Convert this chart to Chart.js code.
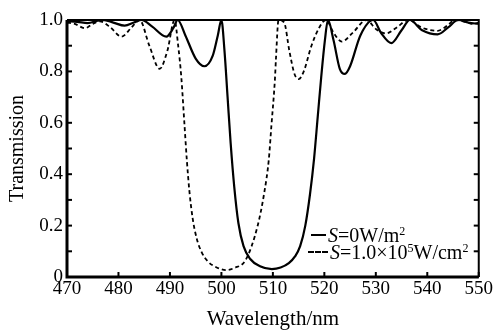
<!DOCTYPE html>
<html>
<head>
<meta charset="utf-8">
<script src="https://cdn.jsdelivr.net/npm/chart.js@4.4.1/dist/chart.umd.min.js"></script>
<style>
  html, body { margin: 0; padding: 0; background: #fff; }
  #wrap { position: relative; width: 494px; height: 332px; }
  .leg { position: absolute; font-family: "Liberation Serif", "DejaVu Serif", serif; font-size: 20px; color: #000; white-space: nowrap; line-height: 17px; }
  .leg i { font-style: italic; }
  .leg sup { font-size: 12px; vertical-align: 7px; line-height: 0; }
  .sample { display: inline-block; vertical-align: middle; margin-right: 2px; position: relative; top: -2px; }
</style>
</head>
<body>
<div id="wrap">
  <canvas id="chart" width="494" height="332"></canvas>
  <div class="leg" style="left:311px; top:227px;"><span class="sample" style="width:15px; border-top:2px solid #000;"></span><i>S</i>=0W/m<sup>2</sup></div>
  <div class="leg" style="left:308px; top:244px;"><span class="sample" style="width:20px; border-top:2px dashed #000;"></span><i>S</i>=1.0×10<sup>5</sup>W/cm<sup>2</sup></div>
</div>
<script>
// Longitud de onda (nm) y transmisión
const solidWl = [470, 472, 474, 476, 477, 479, 481.2, 483, 484.5, 486.5, 489.3, 490.7, 491.5, 493, 495, 496.7, 498.3, 499.3, 500,
  500.6, 501.2, 501.8, 502.5, 503.3, 504.3, 505.6, 507.5, 509.8, 511.5, 513.1, 514.3, 515.3, 516.3, 517.2, 518, 518.7, 519.4, 520.1, 520.7,
  521.8, 523, 524, 525, 527, 529.5, 531, 533, 535, 536.6, 539, 542, 544, 546, 548, 550];
const solidT = [0.995, 0.993, 0.988, 0.997, 1.0, 0.99, 0.978, 0.99, 1.0, 0.975, 0.935, 0.97, 1.0, 0.94, 0.85, 0.82, 0.86, 0.94, 1.0,
  0.88, 0.70, 0.52, 0.35, 0.21, 0.12, 0.07, 0.042, 0.031, 0.037, 0.054, 0.08, 0.12, 0.2, 0.32, 0.46, 0.62, 0.78, 0.92, 1.0,
  0.92, 0.81, 0.79, 0.82, 0.94, 1.0, 0.95, 0.91, 0.96, 1.0, 0.96, 0.944, 0.97, 1.0, 0.99, 0.985];

const dashedWl = [470, 471.5, 473.5, 475, 476.4, 478.5, 480.6, 482.5, 484.1, 486, 488, 489.5, 490.9,
  491.6, 492.2, 492.8, 493.3, 493.8, 494.4, 495.2, 496.2, 497.4, 499, 500.9, 502.5, 504.7, 507, 508.3, 509.2, 509.7, 510.4, 510.6, 511.1,
  512.2, 513.2, 514.2, 515, 516, 517.5, 519, 520.3, 521.8, 523.4, 525.5, 528.2, 530, 532, 534, 536.3, 539, 542, 544, 545.3, 547, 549, 550];
const dashedT = [0.99, 0.985, 0.968, 0.985, 0.995, 0.97, 0.935, 0.97, 1.0, 0.9, 0.81, 0.88, 1.0,
  0.9, 0.78, 0.6, 0.45, 0.33, 0.23, 0.15, 0.095, 0.06, 0.038, 0.027, 0.035, 0.066, 0.196, 0.325, 0.455, 0.585, 0.77, 0.85, 1.0,
  0.99, 0.88, 0.79, 0.77, 0.8, 0.9, 0.97, 1.0, 0.95, 0.916, 0.95, 1.0, 0.965, 0.948, 0.97, 1.0, 0.97, 0.958, 0.98, 1.0, 0.995, 0.985, 0.99];

const xTicks = [470, 480, 490, 500, 510, 520, 530, 540, 550];
const yTicks = [0, 0.1, 0.2, 0.3, 0.4, 0.5, 0.6, 0.7, 0.8, 0.9, 1.0];

const serif = '"Liberation Serif", "DejaVu Serif", serif';

// Marco y marcas hacia adentro
const frame = {
  id: 'frame',
  afterDatasetsDraw(chart) {
    const { ctx, chartArea: a, scales } = chart;
    ctx.save();
    ctx.strokeStyle = '#000';
    ctx.lineWidth = 2;
    ctx.beginPath();
    ctx.moveTo(a.left, a.top); ctx.lineTo(a.right, a.top); ctx.lineTo(a.right, a.bottom);
    ctx.stroke();
    ctx.lineWidth = 3;
    ctx.beginPath();
    ctx.moveTo(a.left, a.top); ctx.lineTo(a.left, a.bottom); ctx.lineTo(a.right, a.bottom);
    ctx.stroke();
    ctx.lineWidth = 2;
    yTicks.forEach(v => {
      const y = scales.y.getPixelForValue(v);
      ctx.beginPath(); ctx.moveTo(a.left, y); ctx.lineTo(a.left + 5, y); ctx.stroke();
      ctx.beginPath(); ctx.moveTo(a.right, y); ctx.lineTo(a.right - 5, y); ctx.stroke();
    });
    xTicks.forEach(v => {
      const x = scales.x.getPixelForValue(v);
      ctx.beginPath(); ctx.moveTo(x, a.bottom); ctx.lineTo(x, a.bottom - 5); ctx.stroke();
    });
    ctx.restore();
  }
};

const toPts = (xs, ys) => xs.map((x, i) => ({ x: x, y: ys[i] }));

new Chart(document.getElementById('chart'), {
  type: 'line',
  data: {
    datasets: [{
      label: 'S=0W/m2',
      data: toPts(solidWl, solidT),
      borderColor: '#000',
      borderWidth: 2.2,
      pointRadius: 0,
      cubicInterpolationMode: 'monotone',
      fill: false
    }, {
      label: 'S=1.0×10^5W/cm2',
      data: toPts(dashedWl, dashedT),
      borderColor: '#000',
      borderWidth: 1.8,
      borderDash: [4, 3],
      pointRadius: 0,
      cubicInterpolationMode: 'monotone',
      fill: false
    }]
  },
  options: {
    responsive: false,
    animation: false,
    layout: { padding: { top: 20, right: 13, left: 0, bottom: 0 } },
    plugins: { legend: { display: false }, tooltip: { enabled: false } },
    scales: {
      x: {
        type: 'linear', min: 470, max: 550,
        afterBuildTicks: s => { s.ticks = xTicks.map(v => ({ value: v })); },
        afterFit: s => { s.height = 55; },
        grid: { display: false, drawTicks: false },
        border: { display: false },
        ticks: { color: '#000', padding: 1, font: { family: serif, size: 19 } },
        title: { display: true, text: 'Wavelength/nm', color: '#000', padding: { top: 0, bottom: 0 }, font: { family: serif, size: 21 } }
      },
      y: {
        min: 0, max: 1,
        afterBuildTicks: s => { s.ticks = yTicks.map(v => ({ value: v })); },
        afterFit: s => { s.width = 67; },
        grid: { display: false, drawTicks: false },
        border: { display: false },
        ticks: {
          color: '#000', padding: 4, font: { family: serif, size: 19 },
          callback: v => {
            const k = Math.round(v * 10);
            if (k % 2) return '';
            return k === 0 ? '0' : v.toFixed(1);
          }
        },
        title: { display: true, text: 'Transmission', color: '#000', padding: { top: 6, bottom: 0 }, font: { family: serif, size: 20 } }
      }
    }
  },
  plugins: [frame]
});
</script>
</body>
</html>
